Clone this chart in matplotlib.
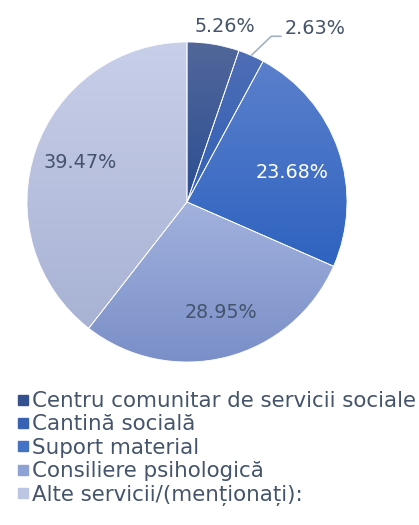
import numpy as np
import matplotlib.pyplot as plt
from matplotlib.colors import LinearSegmentedColormap
from matplotlib.lines import Line2D

# data
labels = ["Centru comunitar de servicii sociale", "Cantină socială",
          "Suport material", "Consiliere psihologică",
          "Alte servicii/(menționați):"]
values = [5.26, 2.63, 23.68, 28.95, 39.47]
pct_labels = ["5.26%", "2.63%", "23.68%", "28.95%", "39.47%"]

# colours (gradient top -> bottom, like the office chart)
top_colors = ["#51679A", "#4E6DB5", "#5B80CC", "#A2B2DE", "#C8CFE9"]
bottom_colors = ["#2C4E93", "#3261B8", "#2E63C0", "#7A8FC8", "#A8B2D4"]
legend_colors = ["#34508F", "#3A62B3", "#4472C4", "#8FA2D6", "#BCC5E3"]
label_colors = ["#44546A", "#44546A", "white", "#44546A", "#44546A"]
text_col = "#44546A"

# label placement: radius and angle nudge
label_r = [1.12, None, 0.68, 0.72, 0.71]
label_dang = [-2.6, 0, -3.5, 3, -1.3]

plt.rcParams['font.family'] = ['DejaVu Sans']

fig = plt.figure(figsize=(4.19, 5.25), dpi=100)
ax = fig.add_axes([0, 145 / 525, 1, 380 / 525])

wedges, _ = ax.pie(values, startangle=90, counterclock=False,
                   colors=legend_colors, radius=1,
                   wedgeprops=dict(edgecolor="white", linewidth=0.6))

grad = np.linspace(0, 1, 256).reshape(-1, 1)
for w, c_top, c_bot in zip(wedges, top_colors, bottom_colors):
    ext = w.get_path().get_extents()
    cmap = LinearSegmentedColormap.from_list("g", [c_bot, c_top])
    im = ax.imshow(grad, cmap=cmap, origin="lower", aspect="auto",
                   extent=[ext.x0, ext.x1, ext.y0, ext.y1],
                   interpolation="bilinear", zorder=1)
    im.set_clip_path(w)
    w.set_facecolor("none")
    w.set_zorder(2)

for i, w in enumerate(wedges):
    mid = np.deg2rad((w.theta1 + w.theta2) / 2)
    if label_r[i] is None:
        # small slice: label outside with an elbow leader line
        ex, ey = np.cos(mid), np.sin(mid)
        kx, ky = ex + 0.125, ey + 0.12
        lx = kx + 0.065
        ax.plot([ex, kx, lx], [ey, ky, ky], color="#A5B0C3", lw=1.2,
                solid_capstyle="butt", zorder=3)
        ax.text(lx + 0.02, ky + 0.05, pct_labels[i], ha="left", va="center",
                fontsize=13.8, color=label_colors[i])
        continue
    a = mid + np.deg2rad(label_dang[i])
    ax.text(label_r[i] * np.cos(a), label_r[i] * np.sin(a), pct_labels[i],
            ha="center", va="center", fontsize=13.8, color=label_colors[i])

ax.set_xlim(-187 / 160, (419 - 187) / 160)
ax.set_ylim((202 - 380) / 160, 202 / 160)
ax.set_aspect("auto")
ax.axis("off")

handles = [Line2D([], [], marker="s", linestyle="none", markersize=7.5,
                  markerfacecolor=c, markeredgecolor=c) for c in legend_colors]
fig.legend(handles, labels, loc="upper left",
           bbox_to_anchor=(17 / 419, 1 - 391 / 525), frameon=False,
           fontsize=15.4, labelcolor=text_col, handlelength=0.55,
           handletextpad=0.15, labelspacing=0.16, borderaxespad=0, borderpad=0)

plt.savefig("out.png", dpi=100)
